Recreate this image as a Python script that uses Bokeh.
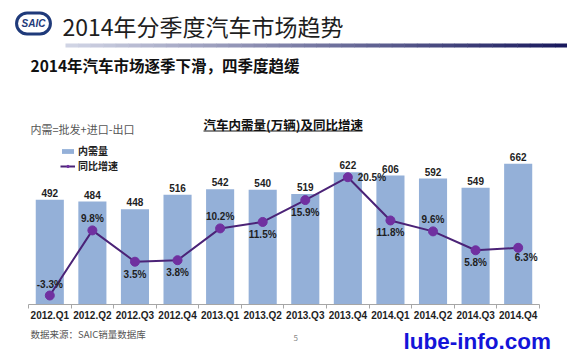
from bokeh.plotting import figure
from bokeh.layouts import column
from bokeh.models import (Range1d, FixedTicker, Label, Legend, LegendItem,
                          BoxAnnotation, ColumnDataSource)
from bokeh.core.properties import value
from bokeh.embed import file_html
from bokeh.resources import INLINE

# ---------------- data ----------------
quarters = ["2012.Q1", "2012.Q2", "2012.Q3", "2012.Q4",
            "2013.Q1", "2013.Q2", "2013.Q3", "2013.Q4",
            "2014.Q1", "2014.Q2", "2014.Q3", "2014.Q4"]
demand = [492, 484, 448, 516, 542, 540, 519, 622, 606, 592, 549, 662]      # 内需量 (万辆)
growth = [-3.3, 9.8, 3.5, 3.8, 10.2, 11.5, 15.9, 20.5, 11.8, 9.6, 5.8, 6.3]  # 同比增速 (%)
growth_label_side = ["above", "above", "below", "below", "above", "below",
                     "below", "right", "below", "above", "below", "below_right"]

# ---------------- layout / style ----------------
W, H = 567, 354
MAIN_H = 324             # main figure height (footer figure below it)
FOOT_H = H - MAIN_H
FH = 304                 # frame height (frame bottom = x-axis line)
FIRST_X = 49.3           # px of first category center
CAT_W = 42.58            # px per category
PX_PER_UNIT = 0.2127     # px per 万辆
PX_PER_PCT = 4.97        # px per %
ZERO_PCT_FROM_BOTTOM = 25.4

BAR = "#94b0d8"
LINE = "#4b2377"
MARK = "#7030a0"
CJK = "Noto Sans CJK SC"
LAT = "Liberation Sans"

side_offsets = {"above": (0, -11.5), "below": (0, 12.5), "right": (24, 0),
                "below_right": (8, 10)}

idx = list(range(len(quarters)))
src = ColumnDataSource(dict(
    x=idx, demand=demand, demand_lbl=[str(v) for v in demand],
    growth=growth, growth_lbl=[f"{g:.1f}%" for g in growth],
    dx=[side_offsets[s][0] for s in growth_label_side],
    dy=[side_offsets[s][1] for s in growth_label_side],
))

x0 = -FIRST_X / CAT_W
p = figure(width=W, height=MAIN_H, output_backend="svg", toolbar_location=None,
           x_range=Range1d(x0, x0 + W / CAT_W),
           y_range=Range1d(0, FH / PX_PER_UNIT),
           y_axis_location=None,
           min_border_left=0, min_border_right=0, min_border_top=0,
           min_border_bottom=MAIN_H - FH)
p.outline_line_color = None
p.grid.visible = False
p.background_fill_color = "white"
p.border_fill_color = "white"

pct_start = -ZERO_PCT_FROM_BOTTOM / PX_PER_PCT
p.extra_y_ranges = {"pct": Range1d(pct_start, pct_start + FH / PX_PER_PCT)}

# x axis
ax = p.xaxis[0]
ax.ticker = FixedTicker(ticks=idx, minor_ticks=[i - 0.5 for i in range(len(quarters) + 1)])
ax.major_label_overrides = {i: q for i, q in enumerate(quarters)}
ax.bounds = (-0.5, len(quarters) - 0.5)
ax.major_tick_line_color = None
ax.major_tick_out = 0
ax.major_tick_in = 0
ax.minor_tick_line_color = "#a6a6a6"
ax.minor_tick_out = 4
ax.minor_tick_in = 0
ax.axis_line_color = "#a6a6a6"
ax.major_label_standoff = 1
ax.major_label_text_font = LAT
ax.major_label_text_font_size = "10px"
ax.major_label_text_font_style = "bold"
ax.major_label_text_color = "#1e1e1e"

# bars
bars = p.vbar(x="x", top="demand", width=0.66, source=src, fill_color=BAR, line_color=None)
p.text(x="x", y="demand", text="demand_lbl", source=src, text_align="center",
       text_baseline="bottom", y_offset=-3, text_font=value(LAT), text_font_size="10px",
       text_font_style="bold", text_color="#1e1e1e")

# growth line
ln = p.line(x="x", y="growth", source=src, y_range_name="pct", line_color=LINE, line_width=2)
mk = p.scatter(x="x", y="growth", source=src, y_range_name="pct", size=9,
               fill_color=MARK, line_color=MARK)
p.text(x="x", y="growth", text="growth_lbl", source=src, y_range_name="pct",
       x_offset="dx", y_offset="dy", text_align="center", text_baseline="middle",
       text_font=value(LAT), text_font_size="10px", text_font_style="bold",
       text_color="#1e1e1e")

# legend
legend = Legend(items=[LegendItem(label="内需量", renderers=[bars]),
                       LegendItem(label="同比增速", renderers=[ln, mk])],
                location=(60, FH - 173), orientation="vertical",
                glyph_width=15, glyph_height=6, label_height=10, label_standoff=3,
                spacing=0, padding=0, margin=0,
                border_line_alpha=0, background_fill_alpha=0,
                label_text_font=CJK, label_text_font_size="10px",
                label_text_font_style="bold", label_text_color="#1e1e1e")
p.add_layout(legend, "center")


def screen_label(fig, top, x, y, text, **kw):
    opts = dict(x_units="screen", y_units="screen", text_baseline="middle",
                text_font=CJK)
    opts.update(kw)
    fig.add_layout(Label(x=x, y=top - y, text=text, **opts))


def box(fig, top, left, right, y_top, y_bottom, color):
    fig.add_layout(BoxAnnotation(left=left, right=right, top=top - y_top, bottom=top - y_bottom,
                                 left_units="screen", right_units="screen",
                                 top_units="screen", bottom_units="screen",
                                 fill_color=color, fill_alpha=1, line_color=None))


# logo
screen_label(p, FH, 33, 23, "SAIC", text_align="center", text_font=LAT, text_font_size="10px",
             text_font_style="bold italic", text_color="#1f3a7a",
             background_fill_color="white", border_line_color="#1f3a7a",
             border_line_width=3, padding=5, border_radius=11)

# titles
screen_label(p, FH, 62, 25, "2014年分季度汽车市场趋势", text_font_size="23px", text_color="#1e1e1e")

# gradient rule under title
n_seg = 40
left_c, right_c = (0xd0, 0xd4, 0xe4), (0x1a, 0x1a, 0x5e)
gx0, gx1 = 65, W
segw = (gx1 - gx0) / n_seg
for k in range(n_seg):
    t = k / (n_seg - 1)
    c = tuple(int(round(a + (b - a) * t)) for a, b in zip(left_c, right_c))
    box(p, FH, gx0 + k * segw, gx0 + (k + 1) * segw + 0.5, 43, 47, "#%02x%02x%02x" % c)

screen_label(p, FH, 30, 64, "2014年汽车市场逐季下滑，四季度趋缓", text_font_size="15.5px",
             text_font_style="bold", text_color="#111111")
screen_label(p, FH, 30, 128, "内需=批发+进口-出口", text_font_size="11px", text_color="#555555")
screen_label(p, FH, 203, 123.5, "汽车内需量(万辆)及同比增速", text_font_size="12.5px",
             text_font_style="bold", text_color="#111111")
box(p, FH, 203, 362, 130, 131, "#111111")

# ---------------- footer figure ----------------
f = figure(width=W, height=FOOT_H, output_backend="svg", toolbar_location=None,
           x_range=Range1d(0, W), y_range=Range1d(0, FOOT_H),
           x_axis_location=None, y_axis_location=None,
           min_border_left=0, min_border_right=0, min_border_top=0, min_border_bottom=0)
f.outline_line_color = None
f.grid.visible = False
f.background_fill_color = "white"
f.border_fill_color = "white"

screen_label(f, FOOT_H, 30, 333.5 - MAIN_H, "数据来源：SAIC销量数据库", text_font_size="9.5px",
             text_color="#555555")
screen_label(f, FOOT_H, 293, 337.5 - MAIN_H, "5", text_font_size="8px", text_color="#888888")
screen_label(f, FOOT_H, 403, 341 - MAIN_H, "lube-info.com",
             text_font=LAT, text_font_size="22.5px", text_font_style="bold",
             text_color="#1414d8")

layout = column(p, f, spacing=0)
open("out.html", "w").write(file_html(layout, INLINE))
